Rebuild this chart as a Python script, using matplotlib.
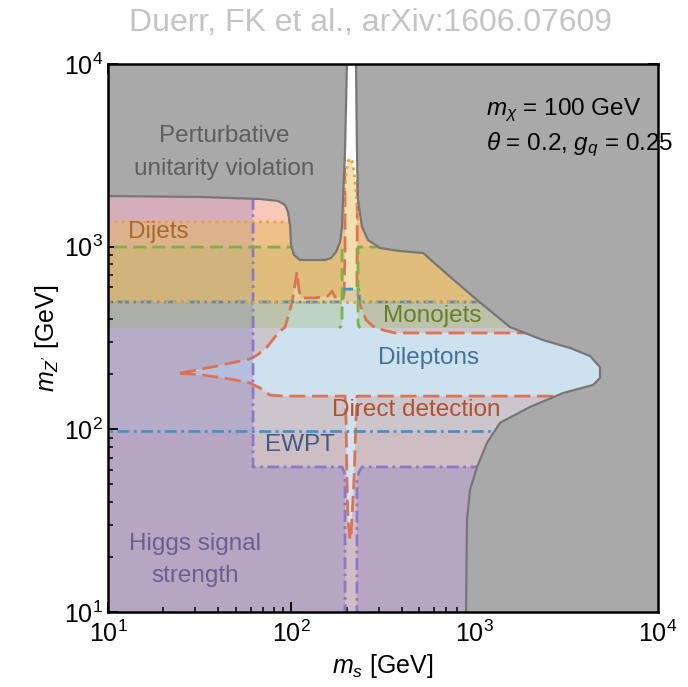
import math
import matplotlib
matplotlib.use("Agg")
import matplotlib.pyplot as plt
from matplotlib.path import Path
from matplotlib.patches import PathPatch

plt.rcParams['font.family'] = ['Liberation Sans', 'DejaVu Sans']
plt.rcParams['mathtext.fontset'] = 'custom'
plt.rcParams['mathtext.rm'] = 'Liberation Sans'
plt.rcParams['mathtext.it'] = 'Liberation Sans:italic'
plt.rcParams['mathtext.cal'] = 'Liberation Sans'

# --- data (m_s, m_Z' in GeV) ---

# perturbative unitarity boundary, left pocket and right piece
pu_left_ms = [10, 31.8, 67.5, 84.6, 92.4, 95.9, 98.4, 99.6, 103.4, 111.5, 152.6,
              164.6, 175.3, 184.3, 189, 191.3, 196.3, 201]
pu_left_mz = [1893, 1871, 1824, 1780, 1690, 1549, 1315, 1021, 900, 845, 845,
              867, 936, 1060, 1281, 1800, 3381, 1e4]
pu_right_ms = [225.3, 228, 231, 243, 262, 305, 392, 523, 715, 1030, 1559, 2358,
               3311, 4256, 4827, 4827, 4420, 3034, 2004, 1374, 1167, 1030, 943, 908, 897]
pu_right_mz = [1e4, 3381, 1800, 1281, 1087, 983, 946, 924, 700, 511, 363, 308,
               279, 252, 219, 191, 175, 158, 132.6, 108.5, 84.2, 62.2, 46.5, 31.9, 10]

# direct detection: boundary of the allowed island (outside is excluded)
dd_ms = [24.7, 39.3, 59.5, 65.0, 73.7, 84.6, 92.4, 98.3, 102.1, 107.4, 110.1, 112.9,
         134.6, 158.5, 166.7, 173, 191.3, 194, 196.3, 196.3, 190, 240, 229, 228, 237,
         255.5, 286, 367, 6000, 6000, 228, 225.3, 219.7, 211.6, 208.9, 203.8, 201,
         198.7, 196.3, 90.1, 76.5, 67.5, 59.5, 46.3, 32.6, 24.7]
dd_mz = [203, 222, 243, 255, 282, 337, 363, 450, 530, 727, 579, 524,
         524, 537, 572, 530, 524, 560, 959, 1800, 2e4, 2e4, 1800, 579, 479,
         397, 359, 337, 337, 152, 152, 112.5, 52.8, 26.4, 24.8, 31.9, 52.8,
         112.5, 152, 152, 154, 168.4, 179.3, 188.6, 198.4, 203]

# monojets: excluded band with a gap at the resonance
mono_l_ms = [1, 189, 189, 187, 182, 1]
mono_l_mz = [995, 995, 385, 366, 359, 359]
mono_r_ms = [1e5, 231, 231, 233, 238, 1e5]
mono_r_mz = [995, 995, 385, 366, 359, 359]

# dijets
dij_ms = [1, 191.3, 194, 199, 204, 209, 214, 220, 226, 231, 1e5]
dij_hi = [1365, 1365, 1900, 2550, 2950, 3055, 2950, 2550, 1900, 1365, 1365]
dij_lo = 498

# dileptons
dil_ms = [1, 191.3, 191.3, 194, 232, 235, 235, 1e5]
dil_hi = [498, 498, 570, 586, 586, 570, 498, 498]
dil_lo = 98

# EWPT
ewpt_ms = [1, 1e5]
ewpt_hi = 98

# Higgs signal strength boundary
hig_ms = [61.8, 61.8, 189, 194, 196.3, 196.3, 228, 228, 233.9, 243, 1e5]
hig_mz = [2e4, 62.2, 62.2, 58.4, 52.8, 1, 1, 52.8, 58.4, 62.2, 62.2]

fig = plt.figure(figsize=(6.88, 6.87), dpi=100)
ax = fig.add_axes([0.157, 0.1092, 0.7994, 0.7976])
ax.set_xscale('log')
ax.set_yscale('log')

# direct detection fill: whole plane minus the island
outer = [(1, 1), (1e5, 1), (1e5, 1e5), (1, 1e5), (1, 1)]
inner = list(zip(dd_ms, dd_mz))
# island must run the other way round to become a hole
area = 0
for (x0, y0), (x1, y1) in zip(inner[:-1], inner[1:]):
    area += math.log10(x0) * math.log10(y1) - math.log10(x1) * math.log10(y0)
if area > 0:
    inner = inner[::-1]
verts = outer + inner
codes = [Path.MOVETO] + [Path.LINETO] * 3 + [Path.CLOSEPOLY] + \
        [Path.MOVETO] + [Path.LINETO] * (len(inner) - 2) + [Path.CLOSEPOLY]
ax.add_patch(PathPatch(Path(verts, codes), facecolor='#f28763', alpha=0.45, lw=0, zorder=1))

# EWPT
ax.fill_between(ewpt_ms, 1, ewpt_hi, color='#6da4de', alpha=0.3, lw=0, zorder=1)
# dileptons
ax.fill_between(dil_ms, dil_lo, dil_hi, color='#9fc5df', alpha=0.5, lw=0, zorder=1)
# higgs
ax.fill(hig_ms + [1e5, 1, 1], hig_mz + [1, 1, 2e4], color='#8472c0', alpha=0.3, lw=0, zorder=1)
# monojets
ax.fill(mono_l_ms, mono_l_mz, color='#9ab860', alpha=0.3, lw=0, zorder=1)
ax.fill(mono_r_ms, mono_r_mz, color='#9ab860', alpha=0.3, lw=0, zorder=1)
# dijets
ax.fill_between(dij_ms, dij_lo, dij_hi, color='#e4b854', alpha=0.45, lw=0, zorder=1)

# boundaries
lw = 2.0
dashdot = (0, (4.3, 1.6, 1, 1.6))
ax.plot(dd_ms, dd_mz, color='#dd7350', lw=lw, ls=(0, (5.8, 2.4)), zorder=3)
ax.plot(hig_ms, hig_mz, color='#8a78cc', lw=lw, ls=dashdot, zorder=3)
ax.plot(ewpt_ms, [ewpt_hi, ewpt_hi], color='#4a90c8', lw=lw, ls=dashdot, zorder=3)
ax.plot(dil_ms, dil_hi, color='#4a90c8', lw=lw, ls=dashdot, zorder=3)
ax.plot(mono_l_ms[:-1], mono_l_mz[:-1], color='#7cb342', lw=lw, ls=(0, (4.7, 2.2)), zorder=3)
ax.plot(mono_r_ms[:-1], mono_r_mz[:-1], color='#7cb342', lw=lw, ls=(0, (4.7, 2.2)), zorder=3)
ax.plot(dij_ms, dij_hi, color='#f0a030', lw=lw, ls=(0, (1, 1.6)), zorder=3)
ax.plot([1, 1e5], [dij_lo, dij_lo], color='#f0a030', lw=lw, ls=(0, (1, 1.6)), zorder=3)

# perturbative unitarity (opaque)
ax.fill(pu_left_ms + [201, 1, 1], pu_left_mz + [2e4, 2e4, 1893], color='#a9a9a9', lw=0, zorder=4)
ax.fill(pu_right_ms + [897, 1e5, 1e5, 225.3], pu_right_mz + [1, 1, 2e4, 2e4],
        color='#a9a9a9', lw=0, zorder=4)
ax.plot(pu_left_ms, pu_left_mz, color='#777777', lw=1.6, zorder=5)
ax.plot(pu_right_ms, pu_right_mz, color='#777777', lw=1.6, zorder=5)

ax.set_xlim(10, 1e4)
ax.set_ylim(10, 1e4)

# labels inside
fs = 17.5
ax.text(0.212, 0.8385, 'Perturbative\nunitarity violation', transform=ax.transAxes,
        ha='center', va='center', fontsize=fs, color='#5e5e5e', linespacing=1.7, zorder=6)
ax.text(0.036, 0.693, 'Dijets', transform=ax.transAxes, ha='left', va='center',
        fontsize=fs, color='#a86a28', zorder=6)
ax.text(0.5, 0.540, 'Monojets', transform=ax.transAxes, ha='left', va='center',
        fontsize=fs, color='#6b7f22', zorder=6)
ax.text(0.5836, 0.4635, 'Dileptons', transform=ax.transAxes, ha='center', va='center',
        fontsize=fs, color='#41729a', zorder=6)
ax.text(0.56, 0.3686, 'Direct detection', transform=ax.transAxes, ha='center', va='center',
        fontsize=fs, color='#b4502f', zorder=6)
ax.text(0.349, 0.3047, 'EWPT', transform=ax.transAxes, ha='center', va='center',
        fontsize=fs, color='#3d5b85', zorder=6)
ax.text(0.158, 0.095, 'Higgs signal\nstrength', transform=ax.transAxes, ha='center', va='center',
        fontsize=fs, color='#6a5f8f', linespacing=1.6, zorder=6)
ax.text(0.687, 0.884, '$m_\\chi$ = 100 GeV\n$\\theta$ = 0.2, $g_q$ = 0.25', transform=ax.transAxes,
        ha='left', va='center', fontsize=fs, color='black', linespacing=1.35, zorder=6)

ax.set_xlabel('$m_s$ [GeV]', fontsize=18, labelpad=4)
ax.set_ylabel("$m_{Z'}$ [GeV]", fontsize=18, labelpad=2)
ax.tick_params(which='both', direction='in', top=True, right=True, labelsize=18)
ax.tick_params(which='major', length=7, width=1.3)
ax.tick_params(which='minor', length=3.5, width=1.1)
ax.tick_params(axis='x', pad=6)
for s in ax.spines.values():
    s.set_linewidth(1.8)
    s.set_zorder(7)

fig.text(0.539, 0.966, 'Duerr, FK et al., arXiv:1606.07609', ha='center', va='center',
         fontsize=23, color='#c4c4c4')

fig.savefig('out.png', dpi=100)
